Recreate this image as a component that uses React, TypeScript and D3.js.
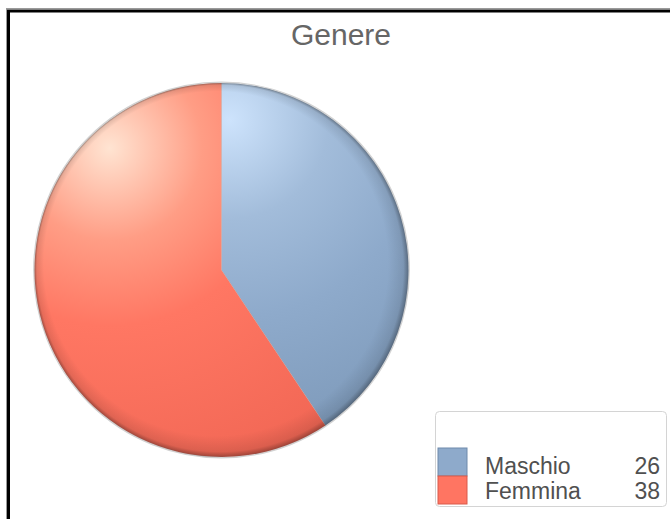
import React from "react";
import * as d3 from "d3";

const categories = ["Maschio", "Femmina"];
const values = [26, 38];
const colors = ["#8eaacb", "#ff7562"];
const title = "Genere";

export default function App() {
  const W = 670, H = 519;
  const cx = 221.5, cy = 270, r = 187;
  const pie = d3.pie<number>().sort(null).startAngle(0).endAngle(2 * Math.PI)(values);
  const arc = d3.arc<d3.PieArcDatum<number>>().innerRadius(0).outerRadius(r);
  const gradIds = ["gM", "gF"];
  return (
    <svg width={W} height={H} style={{ position: "absolute", left: 0, top: 0, background: "#fff" }}
      fontFamily="'Liberation Sans', Arial, sans-serif">
      <defs>
        <radialGradient id="gM" gradientUnits="userSpaceOnUse" cx={8} cy={-150} r={330}>
          <stop offset="0" stopColor="#cde3fc" />
          <stop offset="0.3" stopColor="#a2bcda" />
          <stop offset="0.6" stopColor="#8eaacb" />
          <stop offset="1" stopColor="#7e9aba" />
        </radialGradient>
        <radialGradient id="gF" gradientUnits="userSpaceOnUse" cx={-112} cy={-122} r={370}>
          <stop offset="0" stopColor="#ffe4d2" />
          <stop offset="0.25" stopColor="#ff9d85" />
          <stop offset="0.48" stopColor="#ff7763" />
          <stop offset="1" stopColor="#f06553" />
        </radialGradient>
        <radialGradient id="edge" gradientUnits="userSpaceOnUse" cx={0} cy={0} r={r} fx={-70} fy={-80}>
          <stop offset="0.92" stopColor="#000" stopOpacity="0" />
          <stop offset="0.98" stopColor="#000" stopOpacity="0.1" />
          <stop offset="1" stopColor="#000" stopOpacity="0.35" />
        </radialGradient>
      </defs>
      <rect x={6.5} y={8.5} width={700} height={600} fill="none" stroke="#9a9a9a" strokeWidth={1} />
      <rect x={8.5} y={11} width={700} height={600} fill="none" stroke="#000" strokeWidth={3} />
      <text x={341} y={45} textAnchor="middle" fontSize={30} fill="#666">{title}</text>
      <g transform={`translate(${cx},${cy})`}>
        <circle r={r + 0.8} fill="none" stroke="#d2d2d2" strokeWidth={1.2} />
        {pie.map((d, i) => (
          <path key={i} d={arc(d) || ""} fill={`url(#${gradIds[i]})`}
            stroke="#a0a4aa" strokeOpacity={0.4} strokeWidth={0.6} />
        ))}
        <circle r={r} fill="url(#edge)" />
      </g>
      <rect x={435.5} y={411.5} width={231} height={95} rx={4} fill="#fff" stroke="#d4d4d4" />
      {categories.map((c, i) => (
        <g key={c}>
          <rect x={438} y={448 + i * 28} width={29} height={28} fill={colors[i]}
            stroke={i === 0 ? "#6f8aab" : "#d95a4a"} strokeWidth={1} />
          <text x={485} y={474 + i * 25} fontSize={23} fill="#505050">{c}</text>
          <text x={660} y={474 + i * 25} fontSize={23} fill="#505050" textAnchor="end">{values[i]}</text>
        </g>
      ))}
    </svg>
  );
}
